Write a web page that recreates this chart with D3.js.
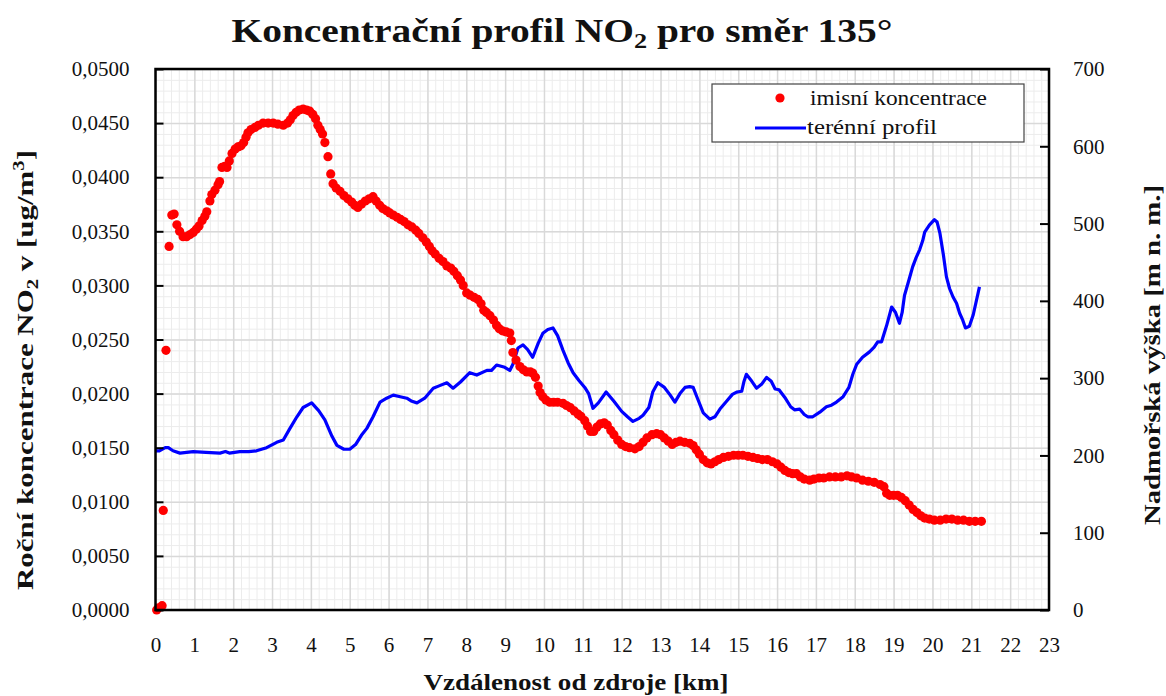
<!DOCTYPE html>
<html>
<head>
<meta charset="utf-8">
<script src="https://cdn.jsdelivr.net/npm/d3@7"></script>
<style>
  body { margin: 0; background: #fff; }
  text { font-family: "Liberation Serif", "DejaVu Serif", serif; fill: #111; }
  .grid-minor line { stroke: #ececec; stroke-width: 1; }
  .grid-major line { stroke: #d9d9d9; stroke-width: 1.5; }
  .grid-minor path, .grid-major path { display: none; }
</style>
</head>
<body>
<script>
var width = 1166,
    height = 696,
    margin = { top: 69, right: 117, bottom: 86, left: 155.5 };

// imisni koncentrace - vzdalenost [km]
var concKm = [0.03, 0.08, 0.17, 0.20, 0.27, 0.35, 0.42, 0.48, 0.55, 0.62, 0.71, 0.80, 0.89, 0.97, 1.05, 1.12, 1.20, 1.27, 1.32, 1.40,
  1.45, 1.53, 1.61, 1.65, 1.71, 1.78, 1.84, 1.90, 1.97, 2.05, 2.12, 2.20, 2.27, 2.33, 2.38, 2.46, 2.56, 2.65, 2.77, 2.90,
  3.03, 3.15, 3.29, 3.40, 3.47, 3.54, 3.62, 3.70, 3.80, 3.89, 3.97, 4.05, 4.12, 4.18, 4.24, 4.30, 4.36, 4.44, 4.51, 4.57,
  4.65, 4.75, 4.85, 4.95, 5.05, 5.13, 5.21, 5.30, 5.40, 5.50, 5.60, 5.68, 5.77, 5.85, 5.95, 6.03, 6.12, 6.22, 6.31, 6.40,
  6.50, 6.60, 6.70, 6.78, 6.88, 6.97, 7.05, 7.12, 7.20, 7.30, 7.40, 7.50, 7.60, 7.68, 7.77, 7.85, 7.92, 8.01, 8.10, 8.20,
  8.30, 8.38, 8.45, 8.52, 8.61, 8.70, 8.78, 8.85, 8.93, 9.03, 9.12, 9.16, 9.20, 9.28, 9.38, 9.47, 9.56, 9.65, 9.71, 9.78,
  9.85, 9.90, 9.97, 10.05, 10.15, 10.25, 10.35, 10.49, 10.58, 10.68, 10.78, 10.88, 10.95, 11.05, 11.12, 11.20, 11.28, 11.36, 11.45, 11.55,
  11.63, 11.72, 11.80, 11.90, 12.00, 12.10, 12.20, 12.34, 12.45, 12.55, 12.65, 12.78, 12.90, 13.00, 13.10, 13.20, 13.30, 13.40, 13.50, 13.62,
  13.75, 13.84, 13.92, 14.00, 14.10, 14.20, 14.30, 14.40, 14.50, 14.62, 14.75, 14.88, 15.00, 15.12, 15.25, 15.38, 15.50, 15.62, 15.75, 15.88,
  16.00, 16.10, 16.20, 16.30, 16.40, 16.50, 16.60, 16.70, 16.84, 16.95, 17.08, 17.20, 17.35, 17.50, 17.65, 17.80, 17.92, 18.05, 18.20, 18.35,
  18.50, 18.65, 18.75, 18.82, 18.90, 19.00, 19.10, 19.20, 19.30, 19.40, 19.50, 19.60, 19.70, 19.80, 19.92, 20.05, 20.20, 20.35, 20.50, 20.65,
  20.80, 20.95, 21.10, 21.26];

// imisni koncentrace [ug/m3]
var concVal = [0.0000, 0.0002, 0.0004, 0.0092, 0.0240, 0.0336, 0.0365, 0.0366, 0.0356, 0.0350, 0.0345, 0.0345, 0.0347, 0.0349, 0.0352, 0.0355, 0.0360, 0.0364, 0.0368, 0.0378,
  0.0384, 0.0388, 0.0393, 0.0396, 0.0409, 0.0410, 0.0409, 0.0415, 0.0422, 0.0426, 0.0428, 0.0429, 0.0432, 0.0437, 0.0441, 0.0444, 0.0446, 0.0448, 0.0450, 0.0450,
  0.0450, 0.0449, 0.0448, 0.0450, 0.0453, 0.0457, 0.0460, 0.0462, 0.0463, 0.0462, 0.0461, 0.0458, 0.0454, 0.0448, 0.0444, 0.0440, 0.0432, 0.0419, 0.0403, 0.0394,
  0.0390, 0.0387, 0.0383, 0.0380, 0.0377, 0.0374, 0.0372, 0.0375, 0.0378, 0.0380, 0.0382, 0.0378, 0.0374, 0.0371, 0.0369, 0.0367, 0.0365, 0.0363, 0.0361, 0.0359,
  0.0356, 0.0354, 0.0351, 0.0348, 0.0344, 0.0340, 0.0336, 0.0332, 0.0329, 0.0325, 0.0322, 0.0318, 0.0316, 0.0313, 0.0309, 0.0305, 0.0300, 0.0293, 0.0291, 0.0289,
  0.0287, 0.0283, 0.0277, 0.0275, 0.0272, 0.0268, 0.0263, 0.0260, 0.0258, 0.0257, 0.0256, 0.0249, 0.0238, 0.0231, 0.0225, 0.0222, 0.0220, 0.0220, 0.0219, 0.0215,
  0.0207, 0.0201, 0.0197, 0.0194, 0.0192, 0.0192, 0.0192, 0.0191, 0.0189, 0.0187, 0.0184, 0.0181, 0.0179, 0.0175, 0.0170, 0.0165, 0.0165, 0.0169, 0.0172, 0.0173,
  0.0171, 0.0166, 0.0162, 0.0157, 0.0153, 0.0151, 0.0150, 0.0149, 0.0151, 0.0155, 0.0159, 0.0162, 0.0163, 0.0162, 0.0159, 0.0156, 0.0153, 0.0155, 0.0156, 0.0155,
  0.0154, 0.0152, 0.0148, 0.0144, 0.0139, 0.0136, 0.0135, 0.0137, 0.0139, 0.0141, 0.0142, 0.0143, 0.0143, 0.0143, 0.0142, 0.0141, 0.0140, 0.0139, 0.0139, 0.0137,
  0.0135, 0.0132, 0.0129, 0.0127, 0.0126, 0.0126, 0.0123, 0.0121, 0.0120, 0.0121, 0.0122, 0.0122, 0.0123, 0.0123, 0.0123, 0.0124, 0.0123, 0.0122, 0.0120, 0.0119,
  0.0118, 0.0116, 0.0114, 0.0108, 0.0106, 0.0106, 0.0106, 0.0104, 0.0101, 0.0097, 0.0093, 0.0090, 0.0087, 0.0085, 0.0084, 0.0083, 0.0083, 0.0084, 0.0084, 0.0083,
  0.0083, 0.0082, 0.0082, 0.0082];

// terenni profil - vzdalenost [km]
var terrKm = [0.00, 0.10, 0.25, 0.33, 0.45, 0.63, 0.80, 0.97, 1.30, 1.66, 1.80, 1.90, 2.17, 2.40, 2.60, 2.86, 3.12, 3.29, 3.45, 3.64,
  3.80, 4.02, 4.20, 4.36, 4.54, 4.67, 4.85, 5.00, 5.15, 5.30, 5.44, 5.60, 5.78, 5.95, 6.12, 6.30, 6.47, 6.60, 6.73, 6.93,
  7.15, 7.30, 7.50, 7.66, 7.85, 8.09, 8.27, 8.53, 8.65, 8.78, 8.99, 9.12, 9.20, 9.33, 9.46, 9.58, 9.71, 9.85, 9.97, 10.10,
  10.23, 10.35, 10.49, 10.62, 10.75, 10.90, 11.05, 11.15, 11.26, 11.40, 11.60, 11.80, 12.00, 12.15, 12.29, 12.45, 12.55, 12.70, 12.80, 12.93,
  13.10, 13.25, 13.37, 13.50, 13.63, 13.75, 13.84, 13.95, 14.10, 14.27, 14.40, 14.53, 14.70, 14.85, 14.96, 15.09, 15.15, 15.21, 15.32, 15.47,
  15.60, 15.73, 15.85, 15.95, 16.05, 16.20, 16.35, 16.45, 16.58, 16.70, 16.79, 16.92, 17.10, 17.27, 17.40, 17.53, 17.70, 17.85, 17.95, 18.05,
  18.20, 18.38, 18.50, 18.59, 18.69, 18.82, 18.95, 19.05, 19.15, 19.22, 19.28, 19.40, 19.49, 19.58, 19.67, 19.75, 19.80, 19.92, 20.05, 20.12,
  20.19, 20.28, 20.36, 20.44, 20.53, 20.62, 20.70, 20.78, 20.85, 20.95, 21.05, 21.21];

// nadmorska vyska [m n. m.]
var terrVal = [206, 206, 210, 210, 206, 203, 204, 205, 204, 203, 205, 203, 205, 205, 206, 210, 217, 220, 234, 250,
  262, 268, 258, 246, 225, 213, 208, 208, 214, 226, 235, 250, 269, 274, 278, 276, 274, 270, 268, 274,
  287, 290, 294, 287, 295, 307, 304, 310, 310, 317, 314, 310, 318, 339, 343, 337, 327, 345, 358, 363,
  365, 355, 336, 320, 307, 297, 288, 280, 261, 268, 282, 270, 257, 250, 244, 248, 252, 262, 282, 294,
  288, 278, 269, 280, 288, 289, 288, 274, 255, 247, 250, 260, 270, 279, 282, 283, 296, 305, 298, 287,
  292, 301, 296, 286, 285, 275, 263, 259, 260, 253, 250, 250, 256, 263, 265, 269, 276, 288, 305, 318,
  327, 334, 340, 347, 347, 368, 392, 385, 371, 385, 407, 428, 444, 456, 466, 478, 489, 498, 505, 502,
  488, 460, 431, 416, 405, 397, 384, 375, 365, 367, 382, 418];

// tick values
var xTicks = d3.range(0, 24, 1);
var yLeftTicks = [0, 0.005, 0.01, 0.015, 0.02, 0.025, 0.03, 0.035, 0.04, 0.045, 0.05];
var yRightTicks = [0, 100, 200, 300, 400, 500, 600, 700];

var concData = concKm.map(function(k, i) { return { km: k, v: concVal[i] }; });
var terrData = terrKm.map(function(k, i) { return { km: k, v: terrVal[i] }; });

var svg = d3.select('body').append('svg')
    .attr('width', width)
    .attr('height', height);

var w = width - margin.left - margin.right,
    h = height - margin.top - margin.bottom;

var xScale = d3.scaleLinear().domain([0, 23]).range([0, w]),
    yLeft = d3.scaleLinear().domain([0, 0.05]).range([h, 0]),
    yRight = d3.scaleLinear().domain([0, 700]).range([h, 0]);

// czech number format with decimal comma
var cz = d3.formatLocale({ decimal: ',', thousands: ' ', grouping: [3], currency: ['', ''] });
var fmtLeft = cz.format('.4f');

var g = svg.append('g')
    .attr('transform', 'translate(' + margin.left + ',' + margin.top + ')');

// minor grid
g.append('g').attr('class', 'grid-minor')
  .attr('transform', 'translate(0,' + h + ')')
  .call(d3.axisBottom(xScale).tickValues(d3.range(0, 23.01, 0.2)).tickSize(-h).tickFormat(''));
g.append('g').attr('class', 'grid-minor')
  .call(d3.axisLeft(yLeft).tickValues(d3.range(0, 0.05001, 0.001)).tickSize(-w).tickFormat(''));

// major grid
g.append('g').attr('class', 'grid-major')
  .attr('transform', 'translate(0,' + h + ')')
  .call(d3.axisBottom(xScale).tickValues(xTicks).tickSize(-h).tickFormat(''));
g.append('g').attr('class', 'grid-major')
  .call(d3.axisLeft(yLeft).tickValues(yLeftTicks).tickSize(-w).tickFormat(''));

// terrain line (right axis)
var line = d3.line()
  .x(function(d) { return xScale(d.km); })
  .y(function(d) { return yRight(d.v); })
  .curve(d3.curveLinear);

g.append('path')
  .datum(terrData)
  .attr('d', line)
  .attr('fill', 'none')
  .attr('stroke', '#0000ff')
  .attr('stroke-width', 3.2)
  .attr('stroke-linejoin', 'round');

// concentration points (left axis)
g.selectAll('.pt')
  .data(concData)
  .enter().append('circle')
  .attr('class', 'pt')
  .attr('cx', function(d) { return xScale(d.km); })
  .attr('cy', function(d) { return yLeft(d.v); })
  .attr('r', 4.6)
  .attr('fill', '#ff0000');

// axes
var axL = g.append('g')
  .call(d3.axisLeft(yLeft).tickValues(yLeftTicks).tickSize(-8).tickPadding(26).tickFormat(fmtLeft));
var axR = g.append('g')
  .attr('transform', 'translate(' + w + ',0)')
  .call(d3.axisRight(yRight).tickValues(yRightTicks).tickSize(-9).tickPadding(24));
var axB = g.append('g')
  .attr('transform', 'translate(0,' + h + ')')
  .call(d3.axisBottom(xScale).tickValues(xTicks).tickSize(0).tickPadding(27));

[axL, axR, axB].forEach(function(a) {
  a.select('.domain').remove();
  a.selectAll('.tick line').attr('stroke', '#000').attr('stroke-width', 2);
  a.selectAll('.tick text')
    .style('font-family', '"Liberation Serif", serif')
    .style('font-size', '21px')
    .attr('fill', '#222');
});

// frame
g.append('rect')
  .attr('width', w).attr('height', h)
  .attr('fill', 'none')
  .attr('stroke', '#000')
  .attr('stroke-width', 2.5);

// title
var title = svg.append('text')
  .attr('x', 562).attr('y', 42)
  .attr('text-anchor', 'middle')
  .attr('textLength', 661)
  .attr('lengthAdjust', 'spacingAndGlyphs')
  .style('font-size', '33px')
  .style('font-weight', 'bold');
title.append('tspan').text('Koncentrační profil NO');
title.append('tspan').text('2').style('font-size', '22px').attr('dy', 6);
title.append('tspan').text(' pro směr 135°').attr('dy', -6);

// x axis title
svg.append('text')
  .attr('x', 576).attr('y', 690)
  .attr('text-anchor', 'middle')
  .attr('textLength', 305)
  .attr('lengthAdjust', 'spacingAndGlyphs')
  .style('font-size', '24px')
  .style('font-weight', 'bold')
  .text('Vzdálenost od zdroje [km]');

// left axis title
var lt = svg.append('text')
  .attr('transform', 'translate(33,370) rotate(-90)')
  .attr('text-anchor', 'middle')
  .attr('textLength', 440)
  .attr('lengthAdjust', 'spacingAndGlyphs')
  .style('font-size', '24px')
  .style('font-weight', 'bold');
lt.append('tspan').text('Roční koncentrace NO');
lt.append('tspan').text('2').style('font-size', '16px').attr('dy', 5);
lt.append('tspan').text(' v [ug/m').attr('dy', -5);
lt.append('tspan').text('3').style('font-size', '16px').attr('dy', -9);
lt.append('tspan').text(']').attr('dy', 9);

// right axis title
svg.append('text')
  .attr('transform', 'translate(1160,355) rotate(-90)')
  .attr('text-anchor', 'middle')
  .attr('textLength', 340)
  .attr('lengthAdjust', 'spacingAndGlyphs')
  .style('font-size', '24px')
  .style('font-weight', 'bold')
  .text('Nadmořská výška [m n. m.]');

// legend
var lg = svg.append('g').attr('transform', 'translate(712,84)');
lg.append('rect')
  .attr('width', 312).attr('height', 58)
  .attr('fill', '#fff')
  .attr('stroke', '#444')
  .attr('stroke-width', 1.2);
lg.append('circle').attr('cx', 68).attr('cy', 14).attr('r', 4.6).attr('fill', '#ff0000');
lg.append('text').attr('x', 98).attr('y', 21).style('font-size', '21px')
  .attr('textLength', 177).attr('lengthAdjust', 'spacingAndGlyphs')
  .text('imisní koncentrace');
lg.append('line').attr('x1', 43).attr('x2', 94).attr('y1', 44).attr('y2', 44)
  .attr('stroke', '#0000ff').attr('stroke-width', 3.2);
lg.append('text').attr('x', 95).attr('y', 50).style('font-size', '21px')
  .attr('textLength', 130).attr('lengthAdjust', 'spacingAndGlyphs')
  .text('terénní profil');
</script>
</body>
</html>
